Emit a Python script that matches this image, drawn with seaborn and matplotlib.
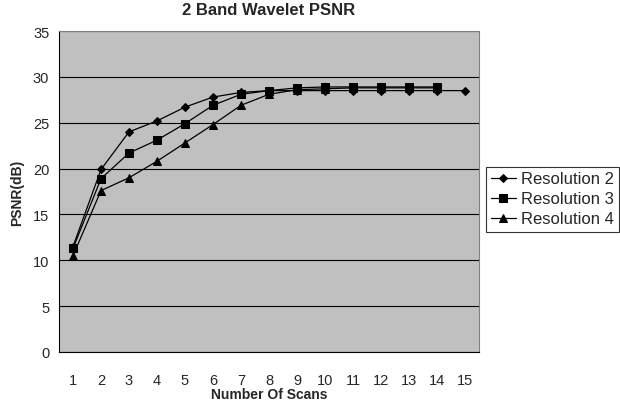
import matplotlib
matplotlib.use("Agg")
import matplotlib.pyplot as plt
import seaborn as sns
import pandas as pd
import numpy as np

scans_r2 = list(range(1, 16))
psnr_r2 = [11.5, 19.9, 24.0, 25.2, 26.7, 27.8, 28.3, 28.5, 28.5, 28.5, 28.5, 28.5, 28.5, 28.5, 28.5]
scans_r3 = list(range(1, 15))
psnr_r3 = [11.3, 18.9, 21.7, 23.1, 24.9, 26.9, 28.1, 28.5, 28.8, 28.9, 28.9, 28.9, 28.9, 28.9]
scans_r4 = list(range(1, 15))
psnr_r4 = [10.5, 17.6, 19.0, 20.8, 22.8, 24.8, 26.9, 28.1, 28.6, 28.7, 28.8, 28.8, 28.8, 28.8]
series_names = ["Resolution 2", "Resolution 3", "Resolution 4"]
x_ticks = list(range(1, 16))
y_ticks = [0, 5, 10, 15, 20, 25, 30, 35]

df = pd.concat([
    pd.DataFrame({"scan": scans_r2, "psnr": psnr_r2, "series": series_names[0]}),
    pd.DataFrame({"scan": scans_r3, "psnr": psnr_r3, "series": series_names[1]}),
    pd.DataFrame({"scan": scans_r4, "psnr": psnr_r4, "series": series_names[2]}),
])

sns.set_style("white")
plt.rcParams['font.family'] = ['Liberation Sans', 'DejaVu Sans']

fig = plt.figure(figsize=(6.2, 4.1), dpi=100)
ax = fig.add_axes([59/620, 1 - 353/410, 420/620, 321/410])
ax.set_facecolor("#c0c0c0")

markers = {series_names[0]: "D", series_names[1]: "s", series_names[2]: "^"}
sizes_map = {series_names[0]: 4.5, series_names[1]: 5.2, series_names[2]: 5.8}
for name in series_names:
    sub = df[df["series"] == name]
    sns.lineplot(data=sub, x="scan", y="psnr", ax=ax, color="black", lw=0.9,
                 marker=markers[name], markersize=sizes_map[name],
                 markeredgecolor="black", markerfacecolor="black", label=name)

ax.set_xlim(0.5, 15.5)
ax.set_ylim(0, 35)
ax.set_yticks(y_ticks)
ax.set_xticks(x_ticks)
ax.set_xticklabels([str(v) for v in x_ticks])
ax.set_xticks(np.arange(0.5, 16, 1), minor=True)
ax.tick_params(axis="x", which="major", length=0, pad=15, labelsize=10.5)
ax.tick_params(axis="x", which="minor", length=4, width=0.8, color="black", direction="out")
ax.tick_params(axis="y", which="major", length=4, width=0.8, color="black", direction="out", labelsize=10.5, pad=3)
ax.yaxis.grid(True, color="black", lw=0.8)
ax.set_axisbelow(True)
for s in ["top", "right"]:
    ax.spines[s].set_color("#808080")
    ax.spines[s].set_linewidth(0.8)
for s in ["left", "bottom"]:
    ax.spines[s].set_color("black")
    ax.spines[s].set_linewidth(0.8)

ax.set_title("2 Band Wavelet PSNR", fontsize=12, fontweight="bold", pad=12)
ax.set_xlabel("Number Of Scans", fontsize=10, fontweight="bold", labelpad=0)
ax.set_ylabel("PSNR(dB)", fontsize=10, fontweight="bold", labelpad=6)

leg = ax.legend(loc="center left", bbox_to_anchor=(486/620, 1 - 200/410),
                bbox_transform=fig.transFigure, frameon=True, fancybox=False,
                edgecolor="black", fontsize=12, handlelength=1.5,
                borderpad=0.3, labelspacing=0.3, handletextpad=0.3, borderaxespad=0)
leg.get_frame().set_linewidth(0.8)

fig.savefig("out.png", dpi=100, facecolor="white")
